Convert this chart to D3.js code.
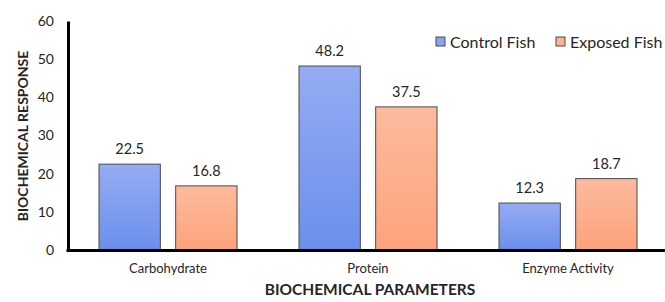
<!DOCTYPE html>
<html>
<head>
<meta charset="utf-8">
<script src="https://cdn.jsdelivr.net/npm/d3@7"></script>
<style>
  body { margin: 0; background: #fff; }
  text { font-family: Lato, "Open Sans", sans-serif; fill: #262626; }
</style>
</head>
<body>
<script>
// chart data
var categories = ["Carbohydrate", "Protein", "Enzyme Activity"];
var seriesNames = ["Control Fish", "Exposed Fish"];
var controlValues = [22.5, 48.2, 12.3];
var exposedValues = [16.8, 37.5, 18.7];
var yTicks = [0, 10, 20, 30, 40, 50, 60];

var W = 665, H = 302;
var x0 = 68, x1 = 668, yTop = 21, yBottom = 250;

var svg = d3.select("body").append("svg")
    .attr("width", W)
    .attr("height", H);

var defs = svg.append("defs");
function grad(id, top, bottom) {
  var g = defs.append("linearGradient").attr("id", id)
      .attr("x1", 0).attr("y1", 0).attr("x2", 0).attr("y2", 1);
  g.append("stop").attr("offset", "0%").attr("stop-color", top);
  g.append("stop").attr("offset", "100%").attr("stop-color", bottom);
}
grad("gControl", "#95acf3", "#6a8fec");
grad("gExposed", "#fcbb9d", "#fda27d");
var fills = ["url(#gControl)", "url(#gExposed)"];
var swatch = ["#8aa3f0", "#fcb394"];

var rows = categories.map(function(c, i) {
  return { cat: c, values: [controlValues[i], exposedValues[i]] };
});

// scales
var x = d3.scaleBand().domain(categories).range([x0, x1]).paddingInner(0).paddingOuter(0);
var xs = d3.scaleBand().domain([0, 1]).range([31, x.bandwidth() - 31]).paddingInner(0.2);
var y = d3.scaleLinear().domain([0, 60]).range([yBottom, yTop]);

// bars
var groups = svg.selectAll(".grp").data(rows).enter().append("g")
    .attr("class", "grp")
    .attr("transform", function(d) { return "translate(" + x(d.cat) + ",0)"; });

groups.selectAll("rect").data(function(d) { return d.values; }).enter().append("rect")
    .attr("x", function(d, i) { return xs(i); })
    .attr("width", xs.bandwidth())
    .attr("y", function(d) { return y(d); })
    .attr("height", function(d) { return y(0) - y(d); })
    .attr("fill", function(d, i) { return fills[i]; })
    .attr("stroke", "#4a4a4a")
    .attr("stroke-width", 1);

groups.selectAll(".val").data(function(d) { return d.values; }).enter().append("text")
    .attr("class", "val")
    .attr("x", function(d, i) { return xs(i) + xs.bandwidth() / 2; })
    .attr("y", function(d) { return y(d) - 10; })
    .attr("text-anchor", "middle")
    .style("font-size", "14.5px")
    .text(function(d) { return d.toFixed(1); });

// y axis
var yAxis = svg.append("g")
    .attr("transform", "translate(" + x0 + ",0)")
    .call(d3.axisLeft(y).tickValues(yTicks).tickSize(0).tickPadding(14));
yAxis.select(".domain").attr("stroke", "#000").attr("stroke-width", 3);
yAxis.selectAll("text").style("font-size", "14px").attr("fill", "#262626");

// x axis
var xAxis = svg.append("g")
    .attr("transform", "translate(0," + (yBottom + 0.5) + ")")
    .call(d3.axisBottom(x).tickSize(0).tickPadding(13));
xAxis.select(".domain").attr("stroke", "#000").attr("stroke-width", 3)
    .attr("d", "M" + (x0 - 1.5) + ",0H" + W);
xAxis.selectAll("text").style("font-size", "13px").attr("fill", "#262626");

// axis titles
svg.append("text")
    .attr("x", 370).attr("y", 295)
    .attr("text-anchor", "middle")
    .style("font-size", "15.5px").style("font-weight", "bold")
    .attr("fill", "#000")
    .text("BIOCHEMICAL PARAMETERS");
svg.append("text")
    .attr("transform", "translate(28,136) rotate(-90)")
    .attr("text-anchor", "middle")
    .style("font-size", "14px").style("font-weight", "bold")
    .attr("fill", "#000")
    .text("BIOCHEMICAL RESPONSE");

// legend
var legX = [436, 556];
var leg = svg.selectAll(".leg").data(seriesNames).enter().append("g")
    .attr("class", "leg")
    .attr("transform", function(d, i) { return "translate(" + legX[i] + ",37)"; });
leg.append("rect")
    .attr("width", 9).attr("height", 9)
    .attr("fill", function(d, i) { return swatch[i]; })
    .attr("stroke", "#4a4a4a").attr("stroke-width", 1);
leg.append("text")
    .attr("x", 14).attr("y", 10.5)
    .style("font-size", "16px")
    .text(function(d) { return d; });
</script>
</body>
</html>
